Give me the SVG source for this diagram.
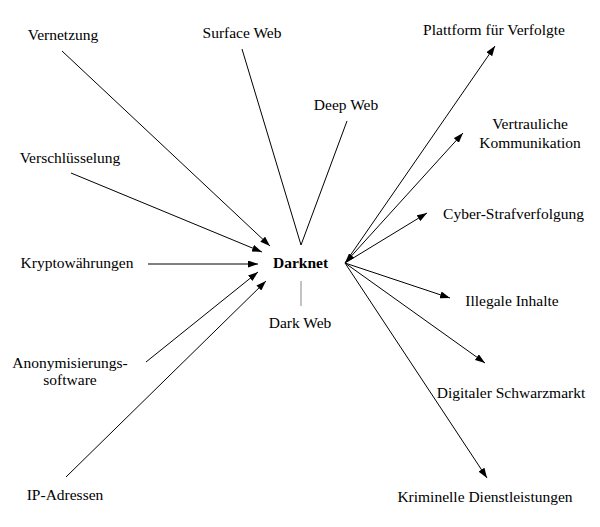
<svg xmlns="http://www.w3.org/2000/svg" width="600" height="527" viewBox="0 0 600 527">
<style>
text{font-family:"Liberation Serif","Times New Roman",serif;font-size:15.5px;fill:#000;text-anchor:middle}
.b{font-weight:bold}
.e{stroke:#000;stroke-width:1;fill:none}
.a{marker-end:url(#ah)}
.g{stroke:#888}
</style>
<defs>
<marker id="ah" viewBox="0 0 10 7" refX="10" refY="3.5" markerWidth="10" markerHeight="7" markerUnits="userSpaceOnUse" orient="auto-start-reverse">
<path d="M0,0L10,3.5L0,7z" fill="#000"/>
</marker>
</defs>
<rect width="600" height="527" fill="#fff"/>
<g id="connectors">
<line class="e a" x1="62" y1="51" x2="270" y2="246"/>
<line class="e" x1="242" y1="49" x2="301" y2="245"/>
<line class="e" x1="347" y1="121" x2="301" y2="245"/>
<line class="e a" x1="71" y1="173" x2="262" y2="252"/>
<line class="e a" x1="148" y1="264" x2="258" y2="264"/>
<line class="e a" x1="146" y1="362" x2="258" y2="272"/>
<line class="e a" x1="66" y1="477" x2="266" y2="281"/>
<line class="e g" x1="301" y1="281" x2="301" y2="306"/>
<line class="e a" x1="345" y1="263" x2="495" y2="46"/>
<line class="e a" x1="345" y1="263" x2="463" y2="133" marker-start="url(#ah)"/>
<line class="e a" x1="345" y1="263" x2="427" y2="213"/>
<line class="e a" x1="345" y1="263" x2="450" y2="298"/>
<line class="e a" x1="345" y1="263" x2="485" y2="363"/>
<line class="e a" x1="345" y1="263" x2="487" y2="478"/>
</g>
<g id="darknet"><text class="b" x="300.5" y="268">Darknet</text></g>
<g id="vernetzung"><text x="63" y="40">Vernetzung</text></g>
<g id="surface-web"><text x="242" y="38">Surface Web</text></g>
<g id="deep-web"><text x="346" y="110">Deep Web</text></g>
<g id="verschluesselung"><text x="70" y="163">Verschlüsselung</text></g>
<g id="kryptowaehrungen"><text x="77" y="268">Kryptowährungen</text></g>
<g id="anonymisierungssoftware"><text x="70" y="368">Anonymisierungs-</text><text x="70" y="385">software</text></g>
<g id="ip-adressen"><text x="65" y="500">IP-Adressen</text></g>
<g id="dark-web"><text x="300" y="328">Dark Web</text></g>
<g id="plattform"><text x="494" y="35">Plattform für Verfolgte</text></g>
<g id="vertrauliche"><text x="530" y="129">Vertrauliche</text><text x="530" y="148">Kommunikation</text></g>
<g id="cyber"><text x="513.5" y="219">Cyber-Strafverfolgung</text></g>
<g id="illegale"><text x="512" y="306">Illegale Inhalte</text></g>
<g id="schwarzmarkt"><text x="511" y="398">Digitaler Schwarzmarkt</text></g>
<g id="kriminelle"><text x="485" y="502">Kriminelle Dienstleistungen</text></g>
</svg>
